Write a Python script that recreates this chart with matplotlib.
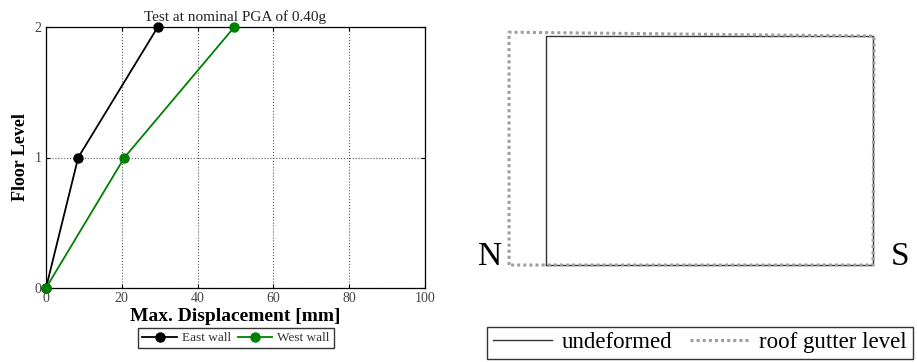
import matplotlib
matplotlib.use("Agg")
import matplotlib.pyplot as plt

plt.rcParams['font.family'] = ['Liberation Serif', 'DejaVu Serif']

# ---- data: left panel
floor_levels = [0, 1, 2]
east_wall = [0, 8.5, 29.5]
west_wall = [0, 20.7, 49.7]
x_ticks = [0, 20, 40, 60, 80, 100]
y_ticks = [0, 1, 2]

# ---- data: right panel (plan outline, arbitrary units)
undeformed_x = [0, 0, 10, 10, 0]
undeformed_y = [0, 7, 7, 0, 0]
gutter_x = [-1.13, -1.13, 10.03, 10.0, -1.13]
gutter_y = [0, 7.12, 7.0, 0, 0]

fig = plt.figure(figsize=(9.17, 3.62), dpi=100)
W, H = 917, 362

def px(l, t, r, b):
    return [l / W, 1 - b / H, (r - l) / W, (b - t) / H]

ax = fig.add_axes(px(46, 27, 425, 288))
ax.plot(east_wall, floor_levels, '-o', color='black', lw=1.3, ms=6.5, label='East wall',
        clip_on=False, zorder=3)
ax.plot(west_wall, floor_levels, '-o', color='#008000', lw=1.3, ms=6.5, label='West wall',
        clip_on=False, zorder=3)
ax.set_xlim(0, 100)
ax.set_ylim(0, 2)
ax.set_xticks(x_ticks)
ax.set_yticks(y_ticks)
ax.grid(True, linestyle=':', color='0.35', lw=0.8)
ax.tick_params(direction='in', top=True, right=True, labelsize=10, colors='black',
               labelcolor='#444444', length=3, pad=3)
for s in ax.spines.values():
    s.set_linewidth(0.9)
ax.set_title('Test at nominal PGA of 0.40g', fontsize=11, color='#222222', pad=4)
ax.set_xlabel('Max. Displacement [mm]', fontsize=14, fontweight='bold', labelpad=2)
ax.set_ylabel('Floor Level', fontsize=13, fontweight='bold', labelpad=4)
leg = ax.legend(loc='upper center', bbox_to_anchor=(236 / W, 1 - 328 / H),
                bbox_transform=fig.transFigure, ncol=2, fontsize=9.5,
                frameon=True, fancybox=False, edgecolor='black',
                handlelength=2.6, handletextpad=0.4, columnspacing=0.5,
                borderpad=0.3, borderaxespad=0)
leg.get_frame().set_linewidth(1.0)
for t in leg.get_texts():
    t.set_color('#333333')

# right panel
unit = 32.7
x0px, y0px = 546, 265
axl, axr, axt, axb = 470, 917, 15, 300
ax2 = fig.add_axes(px(axl, axt, axr, axb))
ax2.set_xlim((axl - x0px) / unit, (axr - x0px) / unit)
ax2.set_ylim((y0px - axb) / unit, (y0px - axt) / unit)
ax2.axis('off')
ax2.plot(undeformed_x, undeformed_y, '-', color='#333333', lw=1.0, label='undeformed')
ax2.plot(gutter_x, gutter_y, color='0.62', lw=2.2, linestyle=(0, (1, 1)),
         label='roof gutter level')
ax2.text(-1.35, 0, 'N', fontsize=24, ha='right', va='baseline')
ax2.text(10.55, 0, 'S', fontsize=24, ha='left', va='baseline')
leg2 = ax2.legend(loc='lower left', bbox_to_anchor=(487 / W, 1 - 359 / H),
                  bbox_transform=fig.transFigure, ncol=2, fontsize=16.5,
                  frameon=True, fancybox=False, edgecolor='black',
                  handlelength=2.6, handletextpad=0.4, columnspacing=0.8,
                  borderpad=0.25, borderaxespad=0)
leg2.get_frame().set_linewidth(1.0)

fig.savefig('out.png', dpi=100)
